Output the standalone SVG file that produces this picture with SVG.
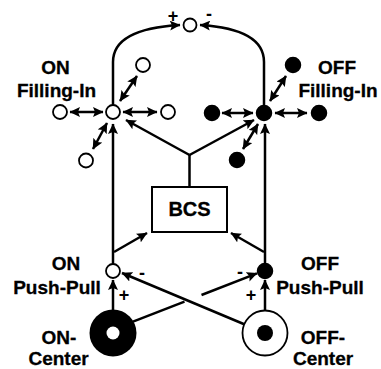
<svg xmlns="http://www.w3.org/2000/svg" width="381" height="369" viewBox="0 0 381 369">
<style>
.ln{fill:none;stroke:#000;stroke-width:2.5;}
.ar{marker-end:url(#ah);}
.da{marker-start:url(#ah);marker-end:url(#ah);}
.o{fill:#fff;stroke:#000;stroke-width:1.8;}
.f{fill:#000;stroke:#000;stroke-width:1.5;}
.t{font-family:"Liberation Sans",Arial,Helvetica,sans-serif;font-weight:bold;font-size:19px;text-anchor:middle;fill:#000;stroke:#000;stroke-width:0.3;}
.s{font-family:"Liberation Sans",Arial,Helvetica,sans-serif;font-weight:bold;font-size:18px;text-anchor:middle;fill:#000;}
</style>
<defs>
<marker id="ah" markerUnits="userSpaceOnUse" markerWidth="11" markerHeight="10" refX="10" refY="5" orient="auto-start-reverse">
<path d="M0,0 L10.5,5 L0,10 L2,5 z" fill="#000"/>
</marker>
</defs>
<g id="connectors">
<path class="ln ar" d="M113,105 L113,62 C113,36 145,27 180,25"/>
<path class="ln ar" d="M264,105 L264,62 C264,36 233,27 200,25"/>
<line class="ln da" x1="70" y1="112" x2="103" y2="112"/>
<line class="ln da" x1="123" y1="112" x2="157" y2="112"/>
<line class="ln da" x1="120" y1="101" x2="137" y2="76"/>
<line class="ln da" x1="107" y1="123" x2="93" y2="149"/>
<line class="ln da" x1="222" y1="113" x2="253" y2="113"/>
<line class="ln da" x1="275" y1="113" x2="307" y2="113"/>
<line class="ln da" x1="270" y1="101" x2="286" y2="76"/>
<line class="ln da" x1="258" y1="124" x2="243" y2="149"/>
<line class="ln ar" x1="113" y1="264" x2="113" y2="124"/>
<line class="ln ar" x1="265" y1="263" x2="265" y2="124"/>
<polyline class="ln" points="189.5,187 189.5,155"/>
<line class="ln ar" x1="189.5" y1="155" x2="126" y2="120"/>
<line class="ln ar" x1="189.5" y1="155" x2="254" y2="120"/>
<line class="ln ar" x1="114" y1="252" x2="147" y2="233"/>
<line class="ln ar" x1="264" y1="252" x2="231" y2="233"/>
<line class="ln ar" x1="113" y1="310" x2="113" y2="280"/>
<line class="ln ar" x1="265" y1="311" x2="265" y2="280"/>
<line class="ln ar" x1="246" y1="325" x2="122" y2="273"/>
<line class="ln" x1="133" y1="321.7" x2="184.5" y2="301.6"/>
<line class="ln ar" x1="201.5" y1="295" x2="257" y2="273.3"/>
</g>
<g id="top-node"><circle class="o" cx="190" cy="25" r="6.5"/></g>
<g id="on-fill-center"><circle class="o" cx="113" cy="112" r="7"/></g>
<g id="on-fill-left"><circle class="o" cx="60" cy="112" r="7"/></g>
<g id="on-fill-right"><circle class="o" cx="168" cy="112" r="7"/></g>
<g id="on-fill-up"><circle class="o" cx="143" cy="65" r="7"/></g>
<g id="on-fill-down"><circle class="o" cx="86" cy="160.5" r="7"/></g>
<g id="off-fill-center"><circle class="f" cx="264" cy="113" r="7.5"/></g>
<g id="off-fill-left"><circle class="f" cx="212" cy="113" r="7.5"/></g>
<g id="off-fill-right"><circle class="f" cx="319" cy="113" r="7.5"/></g>
<g id="off-fill-up"><circle class="f" cx="293" cy="65" r="7.5"/></g>
<g id="off-fill-down"><circle class="f" cx="237" cy="160" r="7.5"/></g>
<g id="bcs"><rect x="152" y="187" width="75" height="45" fill="#fff" stroke="#000" stroke-width="2"/><text class="t" x="189.5" y="216" style="font-size:20px">BCS</text></g>
<g id="on-pushpull"><circle class="o" cx="113" cy="271" r="7"/></g>
<g id="off-pushpull"><circle class="f" cx="265" cy="271" r="7.5"/></g>
<g id="on-center"><circle cx="113" cy="333" r="23.5" fill="#000"/><circle cx="113" cy="333" r="6.5" fill="#fff"/></g>
<g id="off-center"><circle cx="265" cy="333" r="22.5" fill="#fff" stroke="#000" stroke-width="1.8"/><circle cx="265" cy="333" r="8" fill="#000"/></g>
<g id="labels">
<text class="t" x="55.5" y="74">ON</text>
<text class="t" x="56.5" y="97">Filling-In</text>
<text class="t" x="337" y="74">OFF</text>
<text class="t" x="338" y="97">Filling-In</text>
<text class="t" x="66" y="270">ON</text>
<text class="t" x="57" y="294">Push-Pull</text>
<text class="t" x="320" y="270">OFF</text>
<text class="t" x="320" y="294">Push-Pull</text>
<text class="t" x="59" y="344">ON-</text>
<text class="t" x="58.5" y="365">Center</text>
<text class="t" x="323" y="344">OFF-</text>
<text class="t" x="323" y="365">Center</text>
<text class="s" x="173" y="22">+</text>
<text class="s" x="209" y="20">-</text>
<text class="s" x="124" y="301">+</text>
<text class="s" x="251" y="301">+</text>
<text class="s" x="142" y="279">-</text>
<text class="s" x="240" y="278">-</text>
</g>
</svg>
